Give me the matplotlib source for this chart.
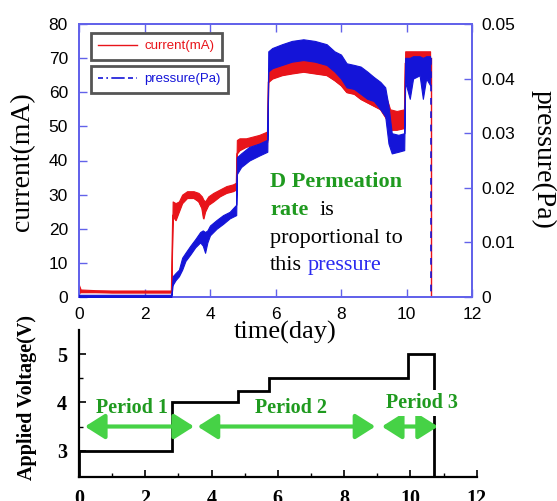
import matplotlib
matplotlib.use("Agg")
import matplotlib.pyplot as plt
from matplotlib.lines import Line2D

# ---------------- data ----------------
# current (mA): time (day), lower/upper edge of the noisy band
cur_t  = [0.00, 0.05, 0.5, 1.0, 1.5, 2.0, 2.5, 2.82, 2.86, 2.95, 3.05, 3.15, 3.30, 3.50, 3.65, 3.75,
          3.80, 3.85, 3.95, 4.10, 4.30, 4.50, 4.70, 4.80, 4.82, 4.90, 5.10, 5.30, 5.50, 5.75, 5.78,
          5.90, 6.20, 6.50, 6.85, 7.20, 7.56, 7.80, 8.00, 8.17, 8.40, 8.60, 8.80, 9.00, 9.20, 9.40,
          9.50, 9.70, 9.93, 9.96, 10.20, 10.50, 10.72]
cur_lo = [1.2, 1.4, 1.4, 1.3, 1.3, 1.3, 1.3, 1.3, 24.0, 22.5, 25.0, 27.5, 29.0, 29.0, 28.0, 26.0,
          23.0, 25.0, 27.0, 28.0, 29.5, 30.5, 31.0, 31.5, 42.0, 43.0, 44.0, 44.5, 45.0, 45.5, 63.0,
          64.0, 65.0, 65.5, 66.0, 65.5, 65.0, 63.5, 62.0, 60.0, 59.5, 58.0, 57.0, 56.0, 55.0, 52.0,
          49.0, 49.0, 49.5, 68.5, 69.0, 69.0, 69.0]
cur_hi = [3.5, 2.2, 2.0, 1.9, 1.9, 1.9, 1.9, 1.9, 28.0, 27.5, 28.0, 30.0, 31.0, 31.0, 30.5, 29.5,
          28.5, 28.0, 29.5, 30.5, 31.5, 32.5, 33.0, 33.5, 46.0, 46.5, 46.5, 47.0, 47.5, 48.5, 67.0,
          68.0, 69.0, 70.0, 70.5, 70.0, 69.5, 68.0, 67.0, 65.0, 64.0, 63.0, 62.0, 61.0, 60.0, 58.0,
          55.0, 54.5, 55.0, 72.0, 72.0, 72.0, 72.0]

# pressure (Pa): time (day), lower/upper edge of the noisy band
pres_t  = [0.00, 0.5, 1.0, 1.5, 2.0, 2.5, 2.82, 2.86, 2.95, 3.05, 3.15, 3.25, 3.40, 3.55, 3.70, 3.78,
           3.85, 3.92, 4.00, 4.20, 4.40, 4.60, 4.80, 4.82, 4.95, 5.20, 5.50, 5.75, 5.78, 5.90, 6.20,
           6.50, 6.85, 7.20, 7.56, 7.80, 8.00, 8.17, 8.40, 8.60, 8.80, 9.00, 9.20, 9.35, 9.45, 9.55,
           9.75, 9.93, 9.96, 10.10, 10.20, 10.40, 10.50, 10.60, 10.72]
pres_lo = [0.0000, 0.0000, 0.0000, 0.0000, 0.0000, 0.0000, 0.0000, 0.0022, 0.0031, 0.0038, 0.0050,
           0.0066, 0.0078, 0.0091, 0.0100, 0.0094, 0.0081, 0.0100, 0.0113, 0.0125, 0.0134, 0.0144,
           0.0150, 0.0225, 0.0238, 0.0250, 0.0259, 0.0266, 0.0413, 0.0419, 0.0425, 0.0431, 0.0434,
           0.0431, 0.0425, 0.0413, 0.0400, 0.0384, 0.0381, 0.0372, 0.0363, 0.0359, 0.0344, 0.0331,
           0.0281, 0.0263, 0.0266, 0.0269, 0.0394, 0.0363, 0.0400, 0.0406, 0.0363, 0.0400, 0.0388]
pres_hi = [0.0004, 0.0004, 0.0004, 0.0004, 0.0004, 0.0004, 0.0004, 0.0038, 0.0044, 0.0050, 0.0072,
           0.0081, 0.0094, 0.0106, 0.0119, 0.0122, 0.0119, 0.0122, 0.0131, 0.0141, 0.0150, 0.0156,
           0.0169, 0.0256, 0.0263, 0.0275, 0.0281, 0.0288, 0.0450, 0.0456, 0.0463, 0.0469, 0.0472,
           0.0469, 0.0463, 0.0450, 0.0444, 0.0428, 0.0425, 0.0422, 0.0413, 0.0403, 0.0394, 0.0384,
           0.0350, 0.0300, 0.0297, 0.0300, 0.0438, 0.0438, 0.0441, 0.0441, 0.0438, 0.0441, 0.0441]

drop_t = [10.74, 10.74]
drop_current = [70.0, 0.0]

# applied voltage steps
volt_edges = [0.0, 2.80, 4.81, 5.74, 9.92, 10.70]
volt_levels = [3.0, 4.0, 4.23, 4.51, 5.0]

periods = ["Period 1", "Period 2", "Period 3"]
period_start = [0.18, 3.58, 9.14]
period_end = [3.47, 8.94, 10.83]
period_label_x = [1.59, 6.40, 10.35]
period_label_y = [3.77, 3.77, 3.88]

top_xticks = [0, 2, 4, 6, 8, 10, 12]
cur_ticks = [0, 10, 20, 30, 40, 50, 60, 70, 80]
pres_ticks = [0, 0.01, 0.02, 0.03, 0.04, 0.05]
pres_ticklabels = ["0", "0.01", "0.02", "0.03", "0.04", "0.05"]
volt_ticks = [3, 4, 5]
volt_minor = [3.5, 4.5]

# ---------------- figure ----------------
W, H = 557, 501
fig = plt.figure(figsize=(W / 100, H / 100), dpi=100)

SANS = "Liberation Sans"
SERIF = "Liberation Serif"
SPINE = "#6262ea"
RED = "#e8141a"
BLUE = "#1414d8"
GREEN_TXT = "#1f9a1f"
GREEN_ARR = "#46d246"

ax = fig.add_axes([79 / W, 1 - 297 / H, 393 / W, 273 / H])
ax2 = ax.twinx()

ax.fill_between(cur_t, cur_lo, cur_hi, color=RED, lw=0.8, zorder=2)
ax.plot(cur_t, cur_lo, color=RED, lw=0.8, zorder=2)
ax.plot(drop_t, drop_current, color=RED, lw=1.0, zorder=2)
ax2.fill_between(pres_t, pres_lo, pres_hi, color=BLUE, lw=0.8, zorder=3)
ax2.plot([drop_t[0], drop_t[1]], [drop_current[0] / 1600, drop_current[1] / 1600],
         color=BLUE, lw=1.2, ls=(0, (4, 4)), zorder=3)

ax.set_xlim(0, 12)
ax.set_ylim(0, 80)
ax2.set_ylim(0, 0.05)
ax.set_xticks(top_xticks)
ax.set_yticks(cur_ticks)
ax2.set_yticks(pres_ticks)
ax2.set_yticklabels(pres_ticklabels)

for a in (ax, ax2):
    for s in a.spines.values():
        s.set_color(SPINE)
        s.set_linewidth(1.3)
ax.tick_params(axis="both", which="major", direction="in", length=5.5, width=1.0,
               color=SPINE, labelsize=12.5, top=True, right=False)
ax.tick_params(axis="x", pad=7)
ax.tick_params(axis="y", pad=8)
ax2.tick_params(axis="y", direction="in", length=5.5, width=1.0, color=SPINE,
                labelsize=12.5, pad=7)
for lab in ax.get_xticklabels() + ax.get_yticklabels() + ax2.get_yticklabels():
    lab.set_fontfamily(SANS)

fig.text(23 / W, 1 - 162 / H, "current(mA)", rotation=90, ha="center", va="center",
         fontsize=20, fontfamily=SERIF)
fig.text(543 / W, 1 - 159 / H, "pressure(Pa)", rotation=-90, ha="center", va="center",
         fontsize=20, fontfamily=SERIF)
fig.text(285.5 / W, 1 - 339 / H, "time(day)", ha="center", va="baseline",
         fontsize=19, fontfamily=SERIF)

# legends (two separate boxes)
h1 = Line2D([], [], color=RED, lw=1.0)
h2 = Line2D([], [], color=BLUE, lw=1.2, ls=(0, (3, 2, 1, 2, 8, 2)))
leg_kw = dict(loc="upper left", fancybox=False, framealpha=1,
              edgecolor="#555555", handlelength=2.9, handletextpad=0.6,
              borderpad=0.55, borderaxespad=0, prop={"family": SANS, "size": 9.5})
leg1 = ax2.legend([h1], ["current(mA)"], bbox_to_anchor=(91 / W, 1 - 33 / H),
                  bbox_transform=fig.transFigure, **leg_kw)
leg1.get_frame().set_linewidth(2.0)
leg1.get_texts()[0].set_color(RED)
ax2.add_artist(leg1)
leg2 = ax2.legend([h2], ["pressure(Pa)"], bbox_to_anchor=(91 / W, 1 - 66 / H),
                  bbox_transform=fig.transFigure, **leg_kw)
leg2.get_frame().set_linewidth(2.0)
leg2.get_texts()[0].set_color(BLUE)

# annotation text
def px(x, y):
    return (x / W, 1 - y / H)

fig.text(*px(270, 187), "D Permeation", color=GREEN_TXT, fontsize=16, fontweight="bold",
         fontfamily=SERIF, va="baseline")
fig.text(*px(270, 215), "rate", color=GREEN_TXT, fontsize=16, fontweight="bold",
         fontfamily=SERIF, va="baseline")
fig.text(*px(320, 215), "is", color="black", fontsize=16, fontfamily=SERIF, va="baseline")
fig.text(*px(270, 243), "proportional to", color="black", fontsize=16, fontfamily=SERIF,
         va="baseline")
fig.text(*px(270, 270), "this", color="black", fontsize=16, fontfamily=SERIF, va="baseline")
fig.text(*px(308, 270), "pressure", color="#2a2af0", fontsize=16, fontfamily=SERIF,
         va="baseline")

# ---------------- bottom panel ----------------
axb = fig.add_axes([79 / W, 1 - 476.7 / H, 397.7 / W, 146.7 / H])
axb.patch.set_visible(False)
axb.stairs(volt_levels, volt_edges, baseline=2.46, color="black", lw=2.0, zorder=2)
axb.set_xlim(0, 12)
axb.set_ylim(2.46, 5.5)
axb.set_xticks(top_xticks)
axb.set_xticks(range(0, 13), minor=True)
axb.set_yticks(volt_ticks)
axb.set_yticks(volt_minor, minor=True)
axb.spines["top"].set_visible(False)
axb.spines["right"].set_visible(False)
for s in ("left", "bottom"):
    axb.spines[s].set_linewidth(1.6)
axb.tick_params(which="major", direction="in", length=5, width=1.2, labelsize=14.5)
axb.tick_params(axis="x", which="major", pad=8.5)
axb.tick_params(axis="y", which="major", pad=8.5)
axb.tick_params(which="minor", direction="in", length=3, width=1.0)
for lab in axb.get_xticklabels() + axb.get_yticklabels():
    lab.set_fontfamily(SERIF)
    lab.set_fontweight("bold")

fig.text(27 / W, 1 - 397 / H, "Applied Voltage(V)", rotation=90, ha="center", va="center",
         fontsize=14.5, fontweight="bold", fontfamily=SERIF)

for name, x0, x1, lx, ly in zip(periods, period_start, period_end, period_label_x, period_label_y):
    axb.annotate("", xy=(x1, 3.5), xytext=(x0, 3.5),
                 arrowprops=dict(arrowstyle="<|-|>,head_length=0.6,head_width=0.38",
                                 color=GREEN_ARR, lw=3, mutation_scale=20,
                                 shrinkA=0, shrinkB=0), zorder=3)
    kw = {}
    if name == "Period 3":
        kw["bbox"] = dict(facecolor="white", edgecolor="none", pad=2)
    axb.text(lx, ly, name, ha="center", va="baseline", color=GREEN_TXT, fontsize=14.5,
             fontweight="bold", fontfamily=SERIF, zorder=4, **kw)

fig.savefig("out.png", dpi=100)
